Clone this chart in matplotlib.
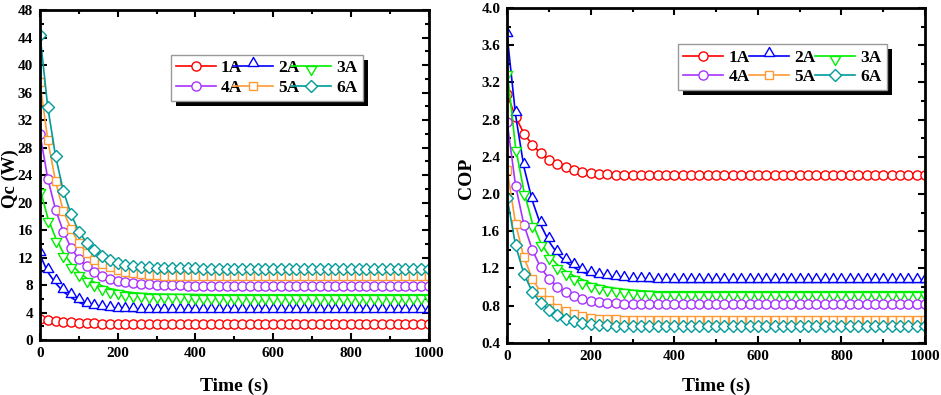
import matplotlib
matplotlib.use("Agg")
import matplotlib.pyplot as plt
from matplotlib.path import Path
from matplotlib.patches import Rectangle
from matplotlib.transforms import IdentityTransform
from matplotlib.ticker import MultipleLocator, FormatStrFormatter

plt.rcParams['font.family'] = ['Liberation Serif', 'DejaVu Serif']
plt.rcParams['font.weight'] = 'bold'

# time axis, one point every 20 s
time = list(range(0, 1001, 20))

labels = ['1A', '2A', '3A', '4A', '5A', '6A']
colors = ['#FF0000', '#0000FF', '#00EE00', '#A833FF', '#FF9A33', '#009B9B']

# cooling capacity Qc (W)
qc_1a = [3.10, 2.90, 2.75, 2.65, 2.57, 2.50, 2.46, 2.43, 2.40, 2.38, 2.36, 2.35, 2.34,
         2.33, 2.33, 2.32, 2.32, 2.32, 2.32, 2.32, 2.32, 2.32, 2.32, 2.32, 2.32, 2.32,
         2.32, 2.32, 2.32, 2.32, 2.32, 2.32, 2.32, 2.32, 2.32, 2.32, 2.32, 2.32, 2.32,
         2.32, 2.32, 2.32, 2.32, 2.32, 2.32, 2.32, 2.32, 2.32, 2.32, 2.32, 2.32]
qc_2a = [12.4, 9.90, 8.30, 7.05, 6.20, 5.50, 5.00, 4.70, 4.50, 4.35, 4.28, 4.22, 4.18,
         4.16, 4.15, 4.14, 4.13, 4.12, 4.12, 4.12, 4.11, 4.11, 4.11, 4.10, 4.10, 4.10,
         4.10, 4.10, 4.10, 4.10, 4.10, 4.10, 4.10, 4.10, 4.10, 4.10, 4.10, 4.10, 4.10,
         4.10, 4.10, 4.10, 4.10, 4.10, 4.10, 4.10, 4.10, 4.10, 4.10, 4.10, 4.10]
qc_3a = [22.0, 17.8, 14.9, 12.7, 11.1, 9.90, 9.00, 8.40, 7.90, 7.50, 7.25, 7.05, 6.90,
         6.80, 6.75, 6.70, 6.68, 6.66, 6.65, 6.64, 6.63, 6.62, 6.61, 6.60, 6.60, 6.60,
         6.60, 6.60, 6.60, 6.60, 6.60, 6.60, 6.60, 6.60, 6.60, 6.60, 6.60, 6.60, 6.60,
         6.60, 6.60, 6.60, 6.60, 6.60, 6.60, 6.60, 6.60, 6.60, 6.60, 6.60, 6.60]
qc_4a = [30.0, 23.5, 19.0, 15.8, 13.4, 11.8, 10.8, 9.90, 9.35, 8.95, 8.65, 8.45, 8.30,
         8.20, 8.10, 8.05, 8.00, 7.97, 7.95, 7.93, 7.92, 7.91, 7.90, 7.90, 7.90, 7.90,
         7.90, 7.90, 7.90, 7.90, 7.90, 7.90, 7.90, 7.90, 7.90, 7.90, 7.90, 7.90, 7.90,
         7.90, 7.90, 7.90, 7.90, 7.90, 7.90, 7.90, 7.90, 7.90, 7.90, 7.90, 7.90]
qc_5a = [37.5, 29.1, 23.1, 18.8, 16.1, 14.1, 12.7, 11.7, 11.05, 10.6, 10.2, 9.95, 9.75,
         9.60, 9.50, 9.45, 9.40, 9.37, 9.35, 9.33, 9.32, 9.31, 9.30, 9.30, 9.30, 9.30,
         9.30, 9.30, 9.30, 9.30, 9.30, 9.30, 9.30, 9.30, 9.30, 9.30, 9.30, 9.30, 9.30,
         9.30, 9.30, 9.30, 9.30, 9.30, 9.30, 9.30, 9.30, 9.30, 9.30, 9.30, 9.30]
qc_6a = [44.4, 33.9, 26.8, 21.7, 18.3, 15.8, 14.2, 13.1, 12.2, 11.6, 11.2, 10.95, 10.8,
         10.7, 10.6, 10.55, 10.5, 10.47, 10.45, 10.43, 10.42, 10.41, 10.4, 10.4, 10.4,
         10.4, 10.4, 10.4, 10.4, 10.4, 10.4, 10.4, 10.4, 10.4, 10.4, 10.4, 10.4, 10.4,
         10.4, 10.4, 10.4, 10.4, 10.4, 10.4, 10.4, 10.4, 10.4, 10.4, 10.4, 10.4, 10.4]

# coefficient of performance
cop_1a = [3.07, 2.83, 2.65, 2.53, 2.44, 2.37, 2.32, 2.285, 2.255, 2.235, 2.225, 2.215,
          2.21, 2.205, 2.20, 2.20, 2.20, 2.20, 2.20, 2.20, 2.20, 2.20, 2.20, 2.20, 2.20,
          2.20, 2.20, 2.20, 2.20, 2.20, 2.20, 2.20, 2.20, 2.20, 2.20, 2.20, 2.20, 2.20,
          2.20, 2.20, 2.20, 2.20, 2.20, 2.20, 2.20, 2.20, 2.20, 2.20, 2.20, 2.20, 2.20]
cop_2a = [3.70, 2.85, 2.29, 1.93, 1.67, 1.49, 1.36, 1.27, 1.21, 1.16, 1.13, 1.11, 1.095,
          1.085, 1.075, 1.07, 1.065, 1.06, 1.055, 1.055, 1.05, 1.05, 1.05, 1.05, 1.05,
          1.05, 1.05, 1.05, 1.05, 1.05, 1.05, 1.05, 1.05, 1.05, 1.05, 1.05, 1.05, 1.05,
          1.05, 1.05, 1.05, 1.05, 1.05, 1.05, 1.05, 1.05, 1.05, 1.05, 1.05, 1.05, 1.05]
cop_3a = [3.32, 2.50, 2.03, 1.69, 1.48, 1.34, 1.24, 1.17, 1.12, 1.08, 1.04, 1.02, 1.00,
          0.985, 0.975, 0.965, 0.96, 0.955, 0.95, 0.95, 0.95, 0.95, 0.95, 0.95, 0.95,
          0.95, 0.95, 0.95, 0.95, 0.95, 0.95, 0.95, 0.95, 0.95, 0.95, 0.95, 0.95, 0.95,
          0.95, 0.95, 0.95, 0.95, 0.95, 0.95, 0.95, 0.95, 0.95, 0.95, 0.95, 0.95, 0.95]
cop_4a = [2.77, 2.09, 1.67, 1.40, 1.21, 1.09, 1.005, 0.945, 0.90, 0.87, 0.845, 0.835,
          0.83, 0.825, 0.822, 0.82, 0.82, 0.82, 0.82, 0.82, 0.82, 0.82, 0.82, 0.82, 0.82,
          0.82, 0.82, 0.82, 0.82, 0.82, 0.82, 0.82, 0.82, 0.82, 0.82, 0.82, 0.82, 0.82,
          0.82, 0.82, 0.82, 0.82, 0.82, 0.82, 0.82, 0.82, 0.82, 0.82, 0.82, 0.82, 0.82]
cop_5a = [2.26, 1.68, 1.32, 1.09, 0.945, 0.865, 0.78, 0.745, 0.705, 0.685, 0.67, 0.66,
          0.655, 0.652, 0.65, 0.648, 0.647, 0.647, 0.647, 0.647, 0.647, 0.647, 0.647,
          0.647, 0.647, 0.647, 0.647, 0.647, 0.647, 0.647, 0.647, 0.647, 0.647, 0.647,
          0.647, 0.647, 0.647, 0.647, 0.647, 0.647, 0.647, 0.647, 0.647, 0.647, 0.647,
          0.647, 0.647, 0.647, 0.647, 0.647, 0.647]
cop_6a = [1.955, 1.45, 1.14, 0.95, 0.83, 0.755, 0.695, 0.655, 0.63, 0.61, 0.598, 0.592,
          0.588, 0.585, 0.583, 0.582, 0.58, 0.58, 0.58, 0.58, 0.58, 0.58, 0.58, 0.58,
          0.58, 0.58, 0.58, 0.58, 0.58, 0.58, 0.58, 0.58, 0.58, 0.58, 0.58, 0.58, 0.58,
          0.58, 0.58, 0.58, 0.58, 0.58, 0.58, 0.58, 0.58, 0.58, 0.58, 0.58, 0.58, 0.58,
          0.58]

# triangles sit on the line like in Origin (base / top at the data point)
tri_up = Path([(-0.58, 0.0), (0.58, 0.0), (0.0, 1.0), (-0.58, 0.0)],
              [Path.MOVETO, Path.LINETO, Path.LINETO, Path.CLOSEPOLY])
tri_dn = Path([(-0.58, 0.0), (0.58, 0.0), (0.0, -1.0), (-0.58, 0.0)],
              [Path.MOVETO, Path.LINETO, Path.LINETO, Path.CLOSEPOLY])
markers = ['o', tri_up, tri_dn, 'o', 's', 'D']
msizes = [6.6, 13, 13, 6.6, 5.8, 5.8]

fig = plt.figure(figsize=(9.41, 3.95), dpi=100)
ax1 = fig.add_axes([0.0425, 0.139, 0.413, 0.835])
ax2 = fig.add_axes([0.539, 0.132, 0.444, 0.848])


def draw(ax, series):
    for i, y in enumerate(series):
        ax.plot(time, y, color=colors[i], lw=1.2, marker=markers[i], ms=msizes[i],
                mfc='white', mec=colors[i], mew=1.0, label=labels[i])
    ax.set_xlim(0, 1000)
    ax.xaxis.set_major_locator(MultipleLocator(200))
    ax.xaxis.set_minor_locator(MultipleLocator(100))
    ax.tick_params(which='both', direction='in', top=True, right=True, width=1.5,
                   labelsize=11)
    ax.tick_params(which='major', length=5, pad=5)
    ax.tick_params(which='minor', length=3)
    for s in ax.spines.values():
        s.set_linewidth(2)
    ax.set_xlabel('Time (s)', fontsize=14, fontweight='bold')


draw(ax1, [qc_1a, qc_2a, qc_3a, qc_4a, qc_5a, qc_6a])
ax1.set_ylim(0, 48)
ax1.yaxis.set_major_locator(MultipleLocator(4))
ax1.yaxis.set_minor_locator(MultipleLocator(2))
ax1.set_ylabel('Qc (W)', fontsize=13.5, fontweight='bold')
ax1.xaxis.set_label_coords(0.5, -0.115)
ax1.yaxis.set_label_coords(-0.054, 0.49)

draw(ax2, [cop_1a, cop_2a, cop_3a, cop_4a, cop_5a, cop_6a])
ax2.set_ylim(0.4, 4.0)
ax2.yaxis.set_major_locator(MultipleLocator(0.4))
ax2.yaxis.set_minor_locator(MultipleLocator(0.2))
ax2.yaxis.set_major_formatter(FormatStrFormatter('%.1f'))
ax2.set_ylabel('COP', fontsize=14, fontweight='bold')
ax2.xaxis.set_label_coords(0.5, -0.105)
ax2.yaxis.set_label_coords(-0.077, 0.49)

legends = []
for ax, box in [(ax1, (0.336, 0.727, 0.494, 0.137)), (ax2, (0.409, 0.755, 0.5, 0.135))]:
    h, l = ax.get_legend_handles_labels()
    # row-wise order: 1A 2A 3A / 4A 5A 6A
    order = [0, 3, 1, 4, 2, 5]
    leg = ax.legend([h[k] for k in order], [l[k] for k in order], ncol=3, loc='center',
                    bbox_to_anchor=box, mode='expand', fontsize=12.5, frameon=True,
                    fancybox=False, edgecolor='#999999', framealpha=1,
                    handlelength=2.3, handletextpad=0.3, columnspacing=0.4,
                    borderpad=0.3, labelspacing=0.2, borderaxespad=0)
    leg.get_frame().set_linewidth(1.0)
    legends.append((ax, leg))

# black drop shadow behind the legend boxes
fig.canvas.draw()
for ax, leg in legends:
    bb = leg.get_frame().get_window_extent()
    sh = Rectangle((bb.x0 + 5, bb.y0 - 5), bb.width, bb.height, transform=IdentityTransform(),
                   facecolor='black', edgecolor='none', zorder=4.5)
    ax.add_artist(sh)
    sh.set_clip_on(False)

fig.savefig('out.png', dpi=100)
